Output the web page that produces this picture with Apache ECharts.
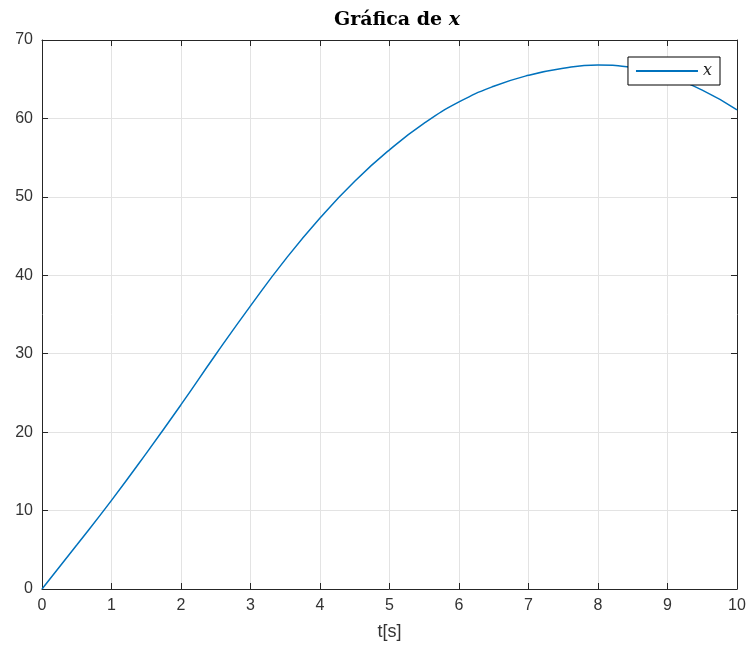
<!DOCTYPE html>
<html>
<head>
<meta charset="utf-8">
<script src="https://cdn.jsdelivr.net/npm/echarts@6/dist/echarts.min.js"></script>
<style>
  body { margin: 0; background: #fff; }
  #chart { width: 751px; height: 661px; }
</style>
</head>
<body>
<div id="chart"></div>
<script>
// valores
const tValues = [0, 0.5, 1, 1.5, 2, 2.5, 3, 3.5, 4, 4.5, 5, 5.5, 6, 6.5, 7, 7.5, 8, 8.5, 9, 9.5, 10];
const xValues = [0, 5.6, 11.3, 17.3, 23.5, 29.9, 36.1, 42.0, 47.3, 52.0, 56.0, 59.4, 62.1, 64.1, 65.5, 66.4, 66.8, 66.5, 65.4, 63.6, 61.1];
const seriesName = "x";

const chart = echarts.init(document.getElementById("chart"));

const points = tValues.map((t, i) => [t, xValues[i]]);

const axisColor = "#262626";
const tickLen = 6;
const labelStyle = {
  color: "#333",
  fontSize: 16,
  fontFamily: "Liberation Sans"
};

const option = {
  animation: false,
  title: {
    text: "{b|Gráfica de }{i|x}",
    left: 392,
    textAlign: "center",
    top: 6,
    textStyle: {
      rich: {
        b: { fontFamily: "DejaVu Serif", fontWeight: "bold", fontSize: 19, color: "#000" },
        i: { fontFamily: "DejaVu Serif", fontStyle: "italic", fontSize: 19, color: "#000" }
      }
    }
  },
  grid: {
    left: 42,
    right: 14,
    top: 40,
    bottom: 72,
    containLabel: false
  },
  legend: {
    right: 31,
    top: 57,
    backgroundColor: "#fff",
    borderColor: "#000",
    borderWidth: 1,
    borderRadius: 0,
    padding: [6, 8, 6, 8],
    icon: "rect",
    itemWidth: 62,
    itemHeight: 2,
    itemGap: 0,
    textStyle: {
      fontFamily: "DejaVu Serif",
      fontStyle: "italic",
      fontSize: 16,
      color: "#222"
    },
    data: [seriesName]
  },
  xAxis: [
    {
      type: "value",
      min: 0,
      max: 10,
      interval: 1,
      name: "t[s]",
      nameLocation: "middle",
      nameGap: 34,
      nameTextStyle: { color: "#333", fontSize: 18, fontFamily: "Liberation Sans" },
      axisLine: { onZero: false, lineStyle: { color: axisColor, width: 1 } },
      axisTick: { inside: true, length: tickLen, lineStyle: { color: axisColor } },
      axisLabel: Object.assign({ margin: 9 }, labelStyle),
      splitLine: { show: true, lineStyle: { color: "#e3e3e3", width: 1 } }
    },
    {
      type: "value",
      position: "top",
      min: 0,
      max: 10,
      interval: 1,
      axisLine: { show: true, onZero: false, lineStyle: { color: axisColor, width: 1 } },
      axisTick: { inside: true, length: tickLen, lineStyle: { color: axisColor } },
      axisLabel: { show: false },
      splitLine: { show: false }
    }
  ],
  yAxis: [
    {
      type: "value",
      min: 0,
      max: 70,
      interval: 10,
      axisLine: { show: true, onZero: false, lineStyle: { color: axisColor, width: 1 } },
      axisTick: { show: true, inside: true, length: tickLen, lineStyle: { color: axisColor } },
      axisLabel: Object.assign({ margin: 9 }, labelStyle),
      splitLine: { show: true, lineStyle: { color: "#e3e3e3", width: 1 } }
    },
    {
      type: "value",
      position: "right",
      min: 0,
      max: 70,
      interval: 10,
      axisLine: { show: true, onZero: false, lineStyle: { color: axisColor, width: 1 } },
      axisTick: { show: true, inside: true, length: tickLen, lineStyle: { color: axisColor } },
      axisLabel: { show: false },
      splitLine: { show: false }
    }
  ],
  series: [
    {
      name: seriesName,
      type: "line",
      xAxisIndex: 0,
      yAxisIndex: 0,
      smooth: true,
      symbol: "none",
      color: "#0072BD",
      lineStyle: { width: 1.5, color: "#0072BD" },
      data: points
    }
  ]
};

chart.setOption(option);
</script>
</body>
</html>
